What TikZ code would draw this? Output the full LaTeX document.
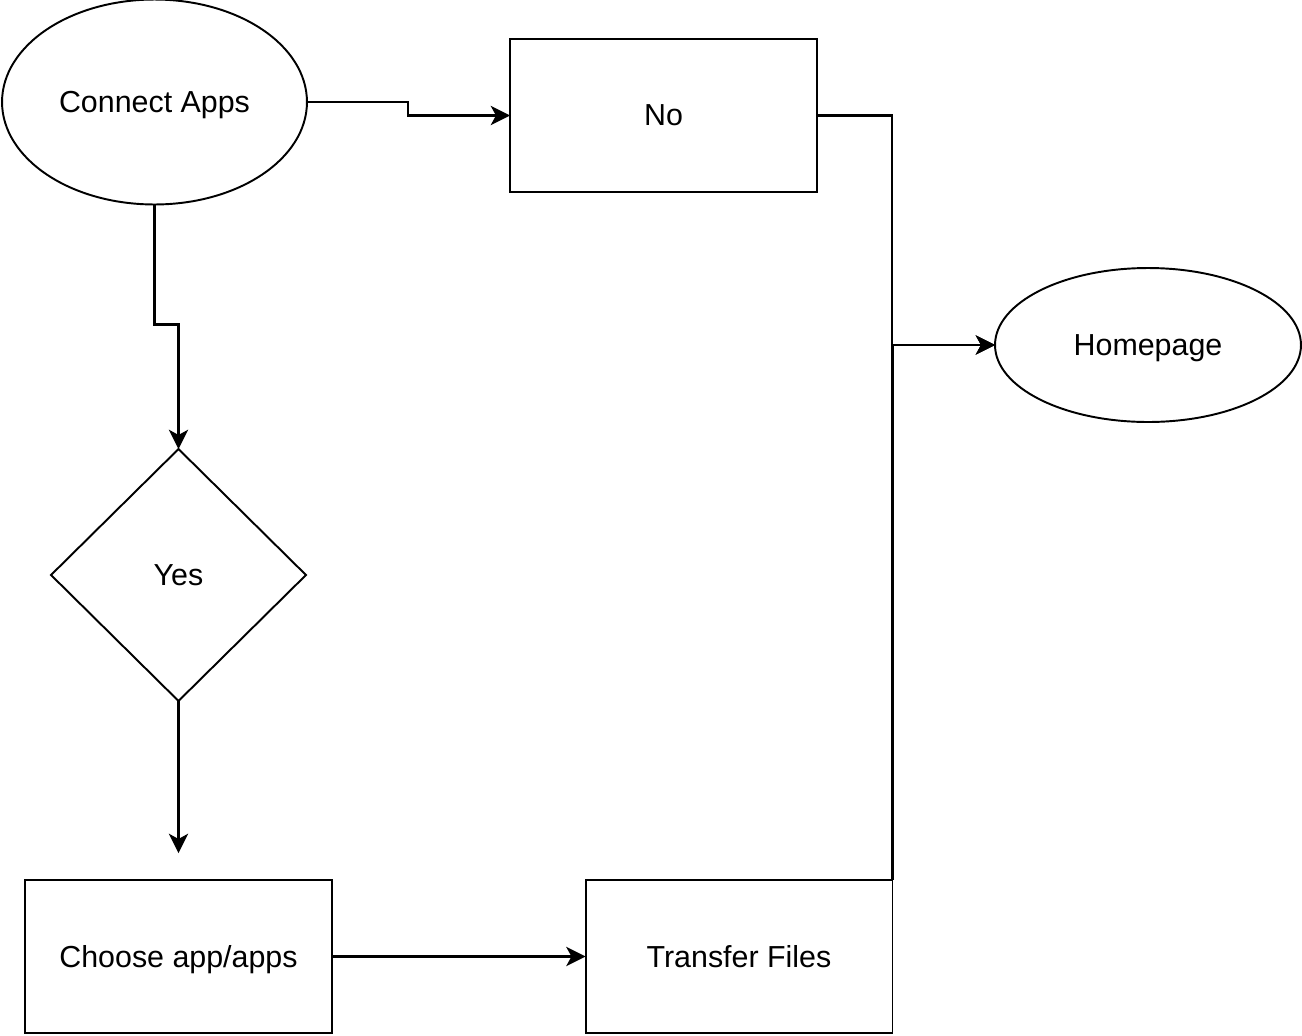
\documentclass[tikz,border=0pt]{standalone}
\usepackage{fontspec}
\setmainfont{Liberation Sans}
\usepackage{tikz}
\usetikzlibrary{arrows.meta, shapes.geometric}

\begin{document}
\begin{tikzpicture}[
          x = 0.02cm, y = -0.02cm,
 every node/.style = {font=\fontsize{17.3}{20}\selectfont, text depth=0pt},
BoxStyle/.style={draw, line width=1.1pt, rectangle, minimum width=6.14cm,
                minimum height=3.06cm, inner sep=0pt, outer sep=0pt},
EllStyle/.style={draw, line width=1.1pt, ellipse, inner sep=0pt, outer sep=0pt},
DiaStyle/.style={draw, line width=1.1pt, diamond, minimum width=5.1cm,
                minimum height=5.04cm, inner sep=0pt, outer sep=0pt},
LinkStyle/.style={draw, line width=1.2pt, -{Stealth[length=11pt, width=11pt, inset=3pt]}},
  ]
\useasboundingbox (0,0) rectangle (1302,1035);
\node [EllStyle, minimum width=6.1cm, minimum height=4.1cm] (conn) at (154.5,102) {Connect Apps};
\node [BoxStyle] (no) at (663.5,115.5) {No};
\node [EllStyle, minimum width=6.12cm, minimum height=3.08cm] (home) at (1148,345) {Homepage};
\node [DiaStyle] (yes) at (178.5,575) {Yes};
\node [BoxStyle] (choose) at (178.5,956.5) {Choose app/apps};
\node [BoxStyle] (transfer) at (739,956.5) {Transfer Files};
\draw [LinkStyle] (conn.east) -- ++(101,0) |- (no.west);
\draw [LinkStyle] (conn.south) -- ++(0,120) -| (yes.north);
\draw [LinkStyle, shorten >=0.54cm] (yes.south) -- (choose.north);
\draw [LinkStyle] (choose.east) -- (transfer.west);
\draw [LinkStyle] (no.east) -- ++(75,0) |- (home.west);
\draw [LinkStyle] (transfer.north east) |- (home.west);
\end{tikzpicture}
\end{document}
